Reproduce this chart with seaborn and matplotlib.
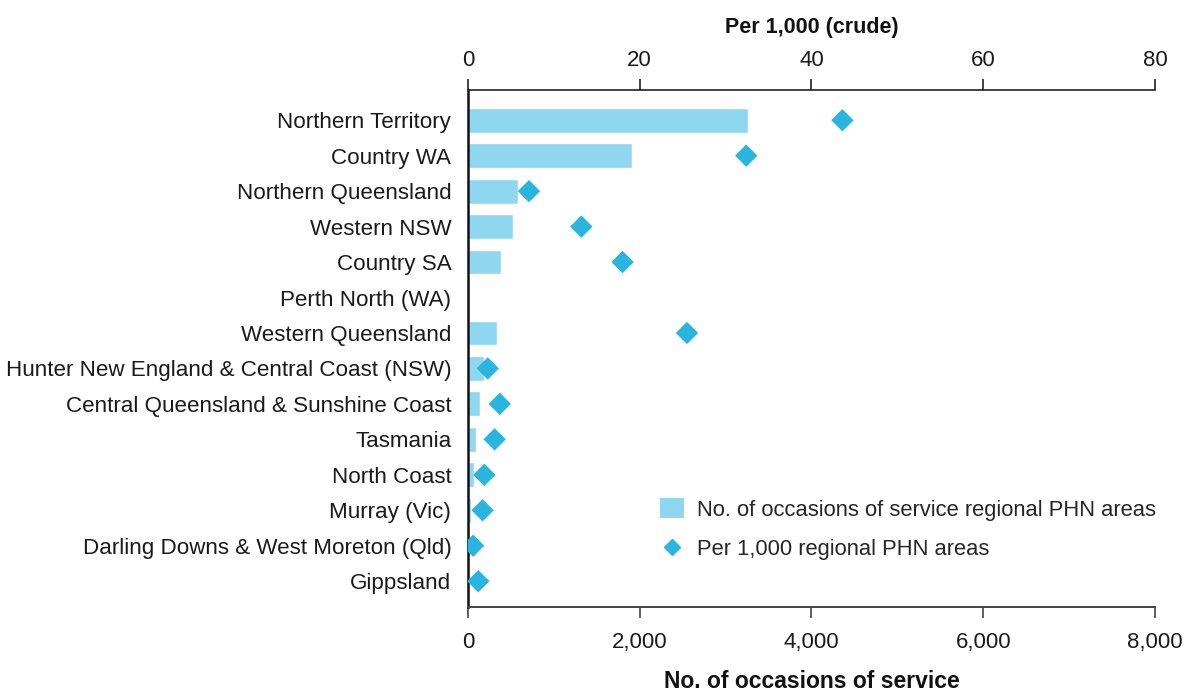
import numpy as np
import pandas as pd
import matplotlib
matplotlib.use("Agg")
import matplotlib.pyplot as plt
import seaborn as sns
from matplotlib.lines import Line2D
from matplotlib.patches import Patch
from matplotlib.ticker import FuncFormatter

# Daten
regions = [
    "Northern Territory",
    "Country WA",
    "Northern Queensland",
    "Western NSW",
    "Country SA",
    "Perth North (WA)",
    "Western Queensland",
    "Hunter New England & Central Coast (NSW)",
    "Central Queensland & Sunshine Coast",
    "Tasmania",
    "North Coast",
    "Murray (Vic)",
    "Darling Downs & West Moreton (Qld)",
    "Gippsland",
]
occasions = [3260, 1905, 580, 520, 380, np.nan, 335, 185, 140, 90, 70, 35, 20, 5]
per_1000 = [43.6, 32.4, 7.1, 13.2, 18.0, np.nan, 25.5, 2.3, 3.7, 3.1, 1.9, 1.7, 0.6, 1.2]

bar_colour = "#8fd7f0"
dot_colour = "#29b5df"

sns.set_theme(style="white")
plt.rcParams["font.family"] = ["Liberation Sans", "DejaVu Sans"]

df = pd.DataFrame({"region": regions, "occasions": occasions, "per_1000": per_1000})
df["pos"] = np.arange(len(regions))

fig = plt.figure(figsize=(11.89, 6.93), dpi=100)
ax = fig.add_axes([0.3936, 0.124, 0.5778, 0.746])

# Balken: Anzahl der Leistungen
sns.barplot(data=df, x="occasions", y="region", order=regions, color=bar_colour,
            saturation=1, width=0.7, ax=ax)

# Rauten: Rate pro 1.000 auf der oberen Achse
ax2 = ax.twiny()
sns.scatterplot(data=df, x="per_1000", y="pos", marker="D", color=dot_colour,
                s=130, edgecolor="none", ax=ax2, zorder=3)

ax.set_xlim(0, 8000)
ax2.set_xlim(0, 80)
ax.set_ylim(len(regions) - 1 + 0.73, -0.85)

ax.set_xticks([0, 2000, 4000, 6000, 8000])
ax.xaxis.set_major_formatter(FuncFormatter(lambda v, p: f"{v:,.0f}"))
ax2.set_xticks([0, 20, 40, 60, 80])

ax.set_ylabel("")
ax2.set_ylabel("")
ax.tick_params(axis="y", length=0, labelsize=16.1, pad=12, colors="#1a1a1a")
ax.tick_params(axis="x", direction="out", length=8, width=1.2, color="#444444",
               labelsize=16, pad=10, labelcolor="#1a1a1a")
ax2.tick_params(axis="x", direction="out", length=8, width=1.2, color="#222222",
                labelsize=16, pad=6, labelcolor="#1a1a1a")

ax.set_xlabel("No. of occasions of service", fontsize=16.5, fontweight="bold",
              labelpad=12, color="#111111")
ax2.set_xlabel("Per 1,000 (crude)", fontsize=15.5, fontweight="bold",
               labelpad=12, color="#111111")

for a in (ax, ax2):
    a.spines["right"].set_visible(False)
ax.spines["left"].set_color("#111111")
ax.spines["left"].set_linewidth(1.8)
ax.spines["bottom"].set_color("#444444")
ax.spines["bottom"].set_linewidth(1.4)
ax2.spines["top"].set_color("#222222")
ax2.spines["top"].set_linewidth(1.2)
ax2.spines["left"].set_visible(False)
ax2.spines["bottom"].set_visible(False)
ax.spines["top"].set_visible(False)

handles = [
    Patch(facecolor=bar_colour, edgecolor="none"),
    Line2D([], [], marker="D", linestyle="none", color=dot_colour, markersize=8),
]
labels = ["No. of occasions of service regional PHN areas", "Per 1,000 regional PHN areas"]
ax2.legend(handles, labels, loc="upper left", bbox_to_anchor=(0.266, 0.227),
           frameon=False, fontsize=15.8, handlelength=1.1, handleheight=1.0,
           handletextpad=0.62, labelspacing=0.78, borderaxespad=0)

fig.savefig("out.png", dpi=100)
